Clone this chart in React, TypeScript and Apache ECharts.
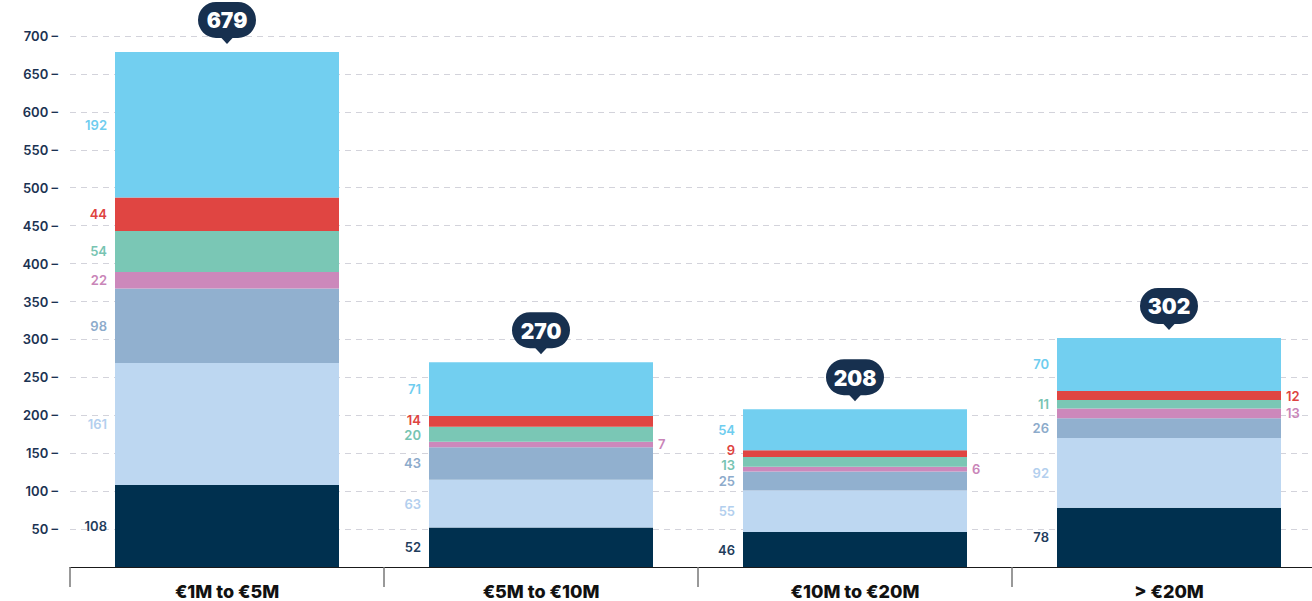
import React, { useEffect, useRef } from "react";
import * as echarts from "echarts";

const categories = ["€1M to €5M", "€5M to €10M", "€10M to €20M", "> €20M"];

const navyValues = [108, 52, 46, 78];
const lightBlueValues = [161, 63, 55, 92];
const steelBlueValues = [98, 43, 25, 26];
const pinkValues = [22, 7, 6, 13];
const greenValues = [54, 20, 13, 11];
const redValues = [44, 14, 9, 12];
const skyBlueValues = [192, 71, 54, 70];

const yMin = 0;
const yMax = 700;
const yInterval = 50;

// label placement config: [seriesIndex, categoryIndex] whose label sits to the right
const rightSideLabels: [number, number][] = [
  [3, 1],
  [3, 2],
  [3, 3],
  [5, 3],
];

const stackSeries = [
  { name: "Series 1", values: navyValues, color: "#00304f", labelColor: "#1f3d5c" },
  { name: "Series 2", values: lightBlueValues, color: "#bdd7f1", labelColor: "#b3cfee" },
  { name: "Series 3", values: steelBlueValues, color: "#91b0cf", labelColor: "#8dabcb" },
  { name: "Series 4", values: pinkValues, color: "#cc88bb", labelColor: "#c985b8" },
  { name: "Series 5", values: greenValues, color: "#7ac7b5", labelColor: "#77c4b2" },
  { name: "Series 6", values: redValues, color: "#e04542", labelColor: "#de4340" },
  { name: "Series 7", values: skyBlueValues, color: "#72cff0", labelColor: "#6ecdef" },
];

const BAR_W = 224;
const FONT = "Inter, 'Noto Sans', sans-serif";

function spread(items: { y: number }[], minGap: number) {
  items.sort((a, b) => a.y - b.y);
  for (let k = 0; k < 30; k++) {
    let moved = false;
    for (let j = 1; j < items.length; j++) {
      const gap = items[j].y - items[j - 1].y;
      if (gap < minGap - 0.01) {
        const d = (minGap - gap) / 2;
        items[j - 1].y -= d;
        items[j].y += d;
        moved = true;
      }
    }
    if (!moved) break;
  }
}

export default function App() {
  const ref = useRef<HTMLDivElement>(null);

  useEffect(() => {
    if (!ref.current) return;
    const chart = echarts.init(ref.current, undefined, { renderer: "svg" });

    const totals = categories.map((_, i) =>
      stackSeries.reduce((acc, s) => acc + s.values[i], 0)
    );

    const isRight = (si: number, ci: number) =>
      rightSideLabels.some(([a, b]) => a === si && b === ci);

    const barSeries = stackSeries.map((s) => ({
      name: s.name,
      type: "bar",
      stack: "total",
      barWidth: BAR_W,
      data: s.values,
      itemStyle: { color: s.color },
      emphasis: { disabled: true },
      silent: true,
    }));

    const labelSeries = {
      type: "custom",
      name: "labels",
      z: 10,
      clip: false,
      silent: true,
      encode: { x: 0, y: 1 },
      data: categories.map((_, i) => [i, totals[i]]),
      renderItem: (params: any, api: any) => {
        const i = api.value(0);
        const cx = api.coord([i, 0])[0];
        const left = cx - BAR_W / 2;
        const right = cx + BAR_W / 2;
        let cum = 0;
        const L: any[] = [];
        const R: any[] = [];
        stackSeries.forEach((s, si) => {
          const v = s.values[i];
          const y0 = api.coord([i, cum])[1];
          const y1 = api.coord([i, cum + v])[1];
          cum += v;
          const item = { y: (y0 + y1) / 2, text: String(v), color: s.labelColor };
          (isRight(si, i) ? R : L).push(item);
        });
        spread(L, 15);
        spread(R, 15);
        const children: any[] = [];
        L.forEach((it) =>
          children.push({
            type: "text",
            x: left - 8,
            y: it.y,
            style: {
              text: it.text,
              fill: it.color,
              fontFamily: FONT,
              fontSize: 13,
              fontWeight: 600,
              align: "right",
              verticalAlign: "middle",
            },
          })
        );
        R.forEach((it) =>
          children.push({
            type: "text",
            x: right + 5,
            y: it.y,
            style: {
              text: it.text,
              fill: it.color,
              fontFamily: FONT,
              fontSize: 13,
              fontWeight: 600,
              align: "left",
              verticalAlign: "middle",
            },
          })
        );
        // total bubble
        const top = api.coord([i, totals[i]]);
        const tipY = top[1] - 8;
        const ptrH = 6;
        const h = 36;
        const w = 58;
        const by = tipY - ptrH - h;
        children.push({
          type: "rect",
          shape: { x: cx - w / 2, y: by, width: w, height: h, r: 18 },
          style: { fill: "#17304f" },
        });
        children.push({
          type: "polygon",
          shape: {
            points: [
              [cx - 6, tipY - ptrH - 0.5],
              [cx + 6, tipY - ptrH - 0.5],
              [cx, tipY],
            ],
          },
          style: { fill: "#17304f" },
        });
        children.push({
          type: "text",
          x: cx,
          y: by + h / 2 + 1,
          style: {
            text: String(totals[i]),
            fill: "#ffffff",
            fontFamily: FONT,
            fontSize: 21,
            fontWeight: 900,
            align: "center",
            verticalAlign: "middle",
          },
        });
        return { type: "group", children };
      },
    };

    chart.setOption({
      animation: false,
      grid: {
        left: 70,
        right: 14,
        top: 36,
        bottom: 34,
        containLabel: false,
        outerBoundsMode: "none",
      },
      xAxis: {
        type: "category",
        data: categories,
        axisLine: { show: true, lineStyle: { color: "#1a1a1a", width: 1 } },
        axisTick: {
          show: true,
          length: 20,
          lineStyle: { color: "#777777", width: 1.5 },
        },
        axisLabel: {
          color: "#111111",
          fontFamily: FONT,
          fontSize: 18,
          fontWeight: 800,
          margin: 15,
        },
        splitLine: { show: false },
      },
      yAxis: {
        type: "value",
        min: yMin,
        max: yMax,
        interval: yInterval,
        axisLine: { show: false },
        axisTick: { show: false },
        axisLabel: {
          color: "#1b3252",
          fontFamily: FONT,
          fontSize: 13,
          fontWeight: 600,
          margin: 12,
          formatter: (v: number) => (v === 0 ? "" : `${v} –`),
        },
        splitLine: {
          show: true,
          lineStyle: { color: "#d3d3db", type: [6, 5], width: 1 },
        },
      },
      series: [...barSeries, labelSeries],
    });

    return () => chart.dispose();
  }, []);

  return (
    <div
      style={{
        position: "fixed",
        left: 0,
        top: 0,
        width: 1312,
        height: 601,
        overflow: "hidden",
        background: "#ffffff",
      }}
    >
      <div ref={ref} style={{ width: 1340, height: 601 }} />
    </div>
  );
}
